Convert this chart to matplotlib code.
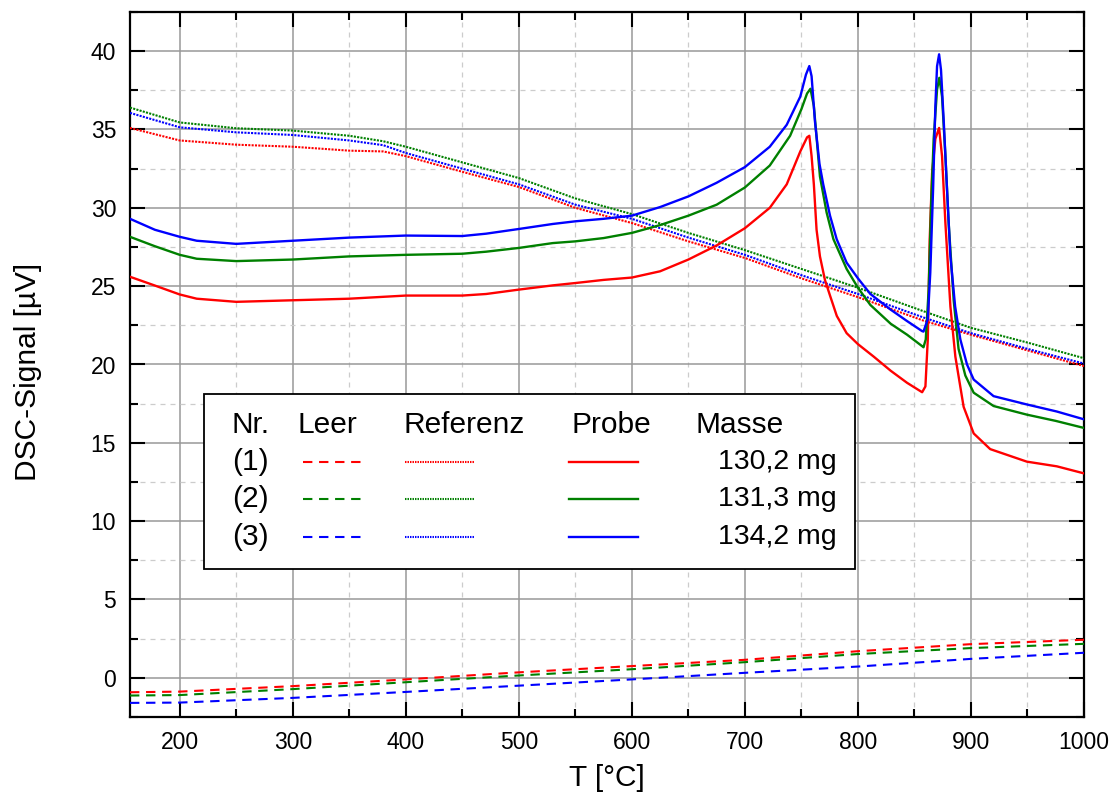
import matplotlib
matplotlib.use("Agg")
import matplotlib.pyplot as plt
from matplotlib.lines import Line2D
from matplotlib.patches import Rectangle
from matplotlib.ticker import MultipleLocator

plt.rcParams['font.family'] = ['Liberation Sans', 'DejaVu Sans']

# ---------------- data ----------------
# Leer (empty crucible) - dashed
leer_T = [156, 200, 300, 400, 500, 600, 700, 800, 900, 1000]
leer_1 = [-0.92, -0.88, -0.53, -0.1, 0.35, 0.75, 1.15, 1.7, 2.15, 2.43]
leer_2 = [-1.13, -1.1, -0.72, -0.28, 0.15, 0.55, 1.0, 1.52, 1.9, 2.17]
leer_3 = [-1.6, -1.58, -1.28, -0.9, -0.5, -0.1, 0.32, 0.72, 1.21, 1.6]

# Referenz - dotted
ref_T = [156, 200, 250, 300, 350, 380, 400, 450, 500, 550, 600, 650, 700,
         750, 800, 858, 900, 950, 1000]
ref_1 = [35.1, 34.3, 34.03, 33.9, 33.65, 33.6, 33.3, 32.3, 31.33, 30.0, 29.03,
         27.86, 26.8, 25.5, 24.3, 22.8, 21.9, 20.9, 19.9]
ref_2 = [36.4, 35.45, 35.08, 34.93, 34.6, 34.25, 33.9, 32.9, 31.9, 30.6, 29.6,
         28.4, 27.3, 26.1, 24.9, 23.4, 22.34, 21.4, 20.4]
ref_3 = [36.06, 35.14, 34.82, 34.65, 34.3, 34.0, 33.5, 32.5, 31.5, 30.2, 29.3,
         28.1, 27.0, 25.7, 24.5, 23.0, 22.0, 21.0, 20.06]

# Probe - solid
probe1_T = [156, 178, 200, 215, 250, 300, 350, 400, 450, 471, 500, 530, 550, 575,
            600, 625, 650, 675, 700, 722, 737, 749, 755, 757, 759, 761, 763.4,
            766.4, 770.8, 775.3, 781.3, 790, 800, 814, 829, 843.5, 856.8, 859.7,
            861.8, 863.5, 865.6, 868.5, 871.8, 874.4, 877.4, 881.8, 886.2, 893.5,
            902.4, 917, 949.4, 976, 1000]
probe1 = [25.6, 25.04, 24.47, 24.2, 24.0, 24.1, 24.2, 24.4, 24.4, 24.5, 24.78,
          25.05, 25.2, 25.4, 25.55, 25.95, 26.7, 27.6, 28.7, 30.0, 31.5, 33.6,
          34.5, 34.6, 33.3, 31.5, 28.6, 26.9, 25.4, 24.4, 23.1, 22.0, 21.3, 20.5,
          19.6, 18.83, 18.23, 18.6, 21.6, 28.0, 32.2, 34.4, 35.1, 33.3, 29.0,
          23.7, 20.5, 17.3, 15.6, 14.6, 13.8, 13.5, 13.05]

probe2_T = [156, 178, 200, 215, 250, 300, 350, 400, 450, 471, 500, 530, 550, 575,
            600, 625, 650, 675, 700, 722, 740, 750, 755, 758, 761, 764, 766.4,
            772.3, 778.3, 790, 800, 811, 829, 843.5, 856.8, 858, 860, 862.6,
            864.7, 867, 870, 872, 874.4, 877.4, 880.3, 884.7, 889, 895, 902.4,
            920, 949.4, 975, 1000]
probe2 = [28.15, 27.55, 27.0, 26.75, 26.6, 26.7, 26.9, 27.0, 27.07, 27.2, 27.44,
          27.75, 27.86, 28.07, 28.4, 28.9, 29.5, 30.2, 31.3, 32.7, 34.6, 36.3,
          37.3, 37.6, 36.5, 34.0, 32.0, 29.7, 28.0, 26.1, 24.9, 23.8, 22.6, 21.9,
          21.17, 21.1, 21.6, 24.8, 30.1, 34.4, 37.55, 38.3, 37.1, 33.3, 29.0,
          24.1, 21.0, 19.3, 18.2, 17.35, 16.8, 16.4, 15.95]

probe3_T = [156, 178, 200, 215, 250, 300, 350, 400, 450, 471, 500, 530, 550, 575,
            600, 625, 650, 675, 700, 722, 737, 749, 754, 757, 759, 762, 766,
            769.3, 775.3, 781.2, 790, 800, 811, 829, 843.5, 856.8, 858, 861.8,
            864, 866.5, 868.5, 870, 871.8, 873.5, 876, 878.8, 881.8, 886, 890.6,
            896.5, 902.4, 920, 949.4, 975.9, 1000]
probe3 = [29.3, 28.6, 28.15, 27.9, 27.7, 27.9, 28.1, 28.23, 28.2, 28.35, 28.65,
          28.97, 29.14, 29.3, 29.5, 30.05, 30.73, 31.6, 32.6, 33.9, 35.3, 37.1,
          38.5, 39.05, 38.4, 35.5, 32.8, 31.5, 29.5, 28.0, 26.5, 25.5, 24.5, 23.5,
          22.77, 22.13, 22.1, 22.9, 25.85, 31.2, 36.5, 39.04, 39.8, 38.8, 35.4,
          31.2, 26.9, 23.7, 21.6, 20.0, 19.04, 17.98, 17.45, 17.0, 16.5]

nr_labels = ['(1)', '(2)', '(3)']
masse_labels = ['130,2 mg', '131,3 mg', '134,2 mg']
colors = ['#ff0000', '#008000', '#0000ff']

x_ticks = [200, 300, 400, 500, 600, 700, 800, 900, 1000]
y_ticks = [0, 5, 10, 15, 20, 25, 30, 35, 40]

# ---------------- figure ----------------
W, H = 1115, 805
fig = plt.figure(figsize=(W / 100, H / 100), dpi=100)
L, R, T, B = 130, 1084, 12, 717
ax = fig.add_axes([L / W, 1 - B / H, (R - L) / W, (B - T) / H])

LW = 1.5
dash = (4.5, 3.2)
dot = (1.0, 0.6)

leer = [leer_1, leer_2, leer_3]
refs = [ref_1, ref_2, ref_3]
probes = [(probe1_T, probe1), (probe2_T, probe2), (probe3_T, probe3)]

for i in range(3):
    ax.plot(leer_T, leer[i], color=colors[i], lw=LW, dashes=dash, zorder=3)
    ax.plot(ref_T, refs[i], color=colors[i], lw=LW, dashes=dot, zorder=3)
    ax.plot(probes[i][0], probes[i][1], color=colors[i], lw=LW + 0.2, zorder=4,
            solid_joinstyle='round')

ax.set_xlim(156, 1000)
ax.set_ylim(-2.5, 42.5)
ax.set_xticks(x_ticks)
ax.set_yticks(y_ticks)
ax.xaxis.set_minor_locator(MultipleLocator(50))
ax.yaxis.set_minor_locator(MultipleLocator(2.5))

ax.grid(True, which='major', color='#999999', lw=1.1, ls='-', zorder=0)
ax.grid(True, which='minor', color='#cccccc', lw=0.9, ls=(0, (4, 4)), zorder=0)
ax.set_axisbelow(True)

ax.tick_params(which='major', direction='in', length=10.5, width=1.5,
               top=True, right=True, labelsize=16.5, pad=10)
ax.tick_params(which='minor', direction='in', length=5.5, width=1.5,
               top=True, right=True)
for s in ax.spines.values():
    s.set_linewidth(1.6)

fig.text(607 / W, 1 - 778 / H, 'T [°C]', ha='center', va='center', fontsize=21.5)
fig.text(28 / W, 1 - 372 / H, 'DSC-Signal [µV]', ha='center', va='center',
         rotation=90, fontsize=21.5)

# ---------------- legend table ----------------
def fx(x):
    return x / W

def fy(y):
    return 1 - y / H

rect = Rectangle((fx(204), fy(569)), fx(855) - fx(204), fy(394) - fy(569),
                 transform=fig.transFigure, facecolor='white', edgecolor='black',
                 lw=1.3, zorder=10)
fig.patches.append(rect)

FS = 21.5
hy = 425
for txt, x in [('Nr.', 232), ('Leer', 298), ('Referenz', 404), ('Probe', 572),
               ('Masse', 696)]:
    fig.text(fx(x), fy(hy), txt, ha='left', va='center', fontsize=FS, zorder=11)

row_y = [462, 499, 537]
for i in range(3):
    y = row_y[i]
    fig.text(fx(232), fy(y), nr_labels[i], ha='left', va='center', fontsize=FS,
             zorder=11)
    fig.lines.append(Line2D([fx(303), fx(367)], [fy(y), fy(y)],
                            transform=fig.transFigure, color=colors[i], lw=LW,
                            dashes=dash, zorder=11))
    fig.lines.append(Line2D([fx(405), fx(475)], [fy(y), fy(y)],
                            transform=fig.transFigure, color=colors[i], lw=LW,
                            dashes=(0.7, 0.5), zorder=11))
    fig.lines.append(Line2D([fx(569), fx(638)], [fy(y), fy(y)],
                            transform=fig.transFigure, color=colors[i],
                            lw=LW + 0.2, zorder=11))
    fig.text(fx(718), fy(y), masse_labels[i], ha='left', va='center',
             fontsize=20.5, zorder=11)

fig.savefig('out.png', dpi=100, facecolor='white')
